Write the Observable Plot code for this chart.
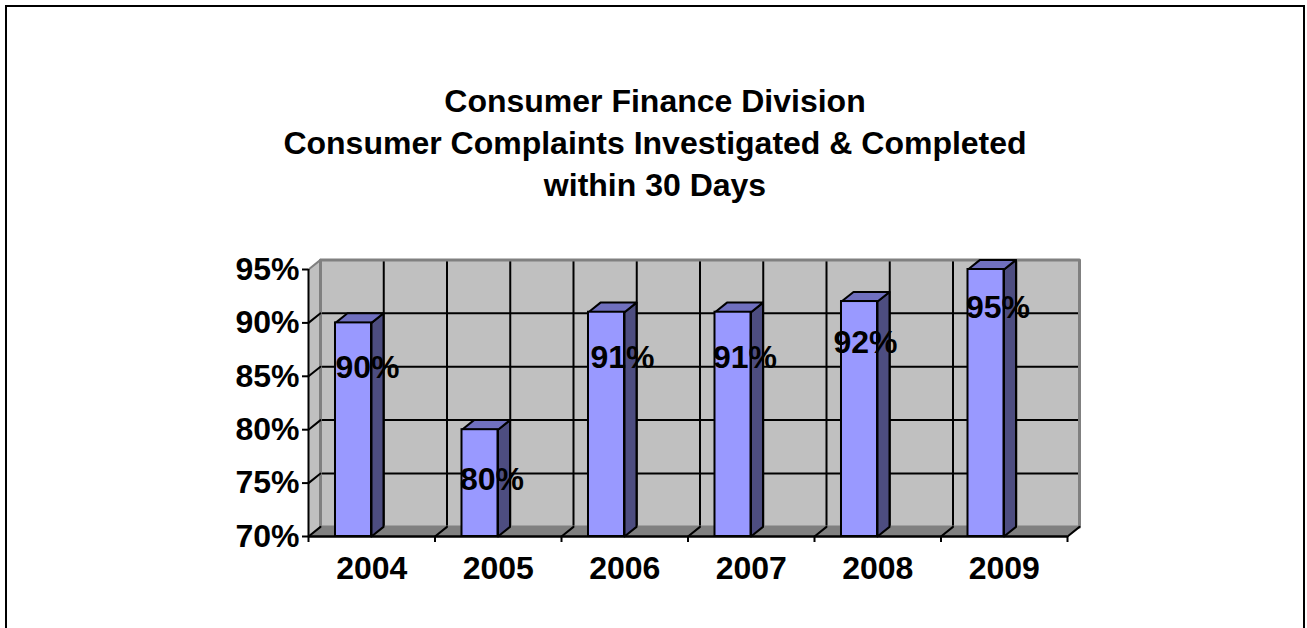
<!DOCTYPE html>
<html>
<head>
<meta charset="utf-8">
<script src="https://cdn.jsdelivr.net/npm/d3@7"></script>
<script src="https://cdn.jsdelivr.net/npm/@observablehq/plot@0.6"></script>
<style>
html,body{margin:0;padding:0;background:#fff;overflow:hidden}
#chart{position:relative;width:1307px;height:628px;overflow:hidden}
#chart svg{position:absolute;left:0;top:0}
#frame{position:absolute;left:5px;top:5px;width:1296px;height:640px;border:2px solid #000}
#title{position:absolute;left:0;width:1310px;top:80px;font:bold 32px/42px "Liberation Sans",Arial,sans-serif;color:#000;text-align:center}
</style>
</head>
<body>
<div id="chart"><div id="frame"></div>
<div id="title">Consumer Finance Division<br>Consumer Complaints Investigated &amp; Completed<br>within 30 Days</div>
</div>
<script>
const years = ["2004","2005","2006","2007","2008","2009"];
const rates = [90,80,91,91,92,95];
const yTicks = [70,75,80,85,90,95];

// layout only: the hand-placed label nudges of the original, in pixels
const labelDx = [32,30,34,30,24,30];
const labelDy = [45,50,46,46,41,38];

const depthX = 12/126.5, depthY = 9.6/10.68;
const barStart = 0.2134, barWidth = 0.2846;
const yMin = 70, yMax = 95, n = years.length;

const poly = (id,pts)=>pts.map(([x,y])=>({id,x,y}));
const halves = d3.range(0,2*n+1).map(k=>k/2);

const wall = poly("w",[[depthX,yMin+depthY],[n+depthX,yMin+depthY],[n+depthX,yMax+depthY],[depthX,yMax+depthY]]);
const side = poly("s",[[0,yMin],[depthX,yMin+depthY],[depthX,yMax+depthY],[0,yMax]]);
const floor = poly("f",[[0,yMin],[n,yMin],[n+depthX,yMin+depthY],[depthX,yMin+depthY]]);

const sides=[],tops=[];
rates.forEach((v,i)=>{
  const a=i+barStart,b=a+barWidth;
  sides.push(...poly("s"+i,[[b,yMin],[b+depthX,yMin+depthY],[b+depthX,v+depthY],[b,v]]));
  tops.push(...poly("t"+i,[[a,v],[b,v],[b+depthX,v+depthY],[a+depthX,v+depthY]]));
});
const bars = rates.map((v,i)=>({x1:i+barStart,x2:i+barStart+barWidth,v,label:v+"%"}));

const face=(d,fill,stroke,sw)=>Plot.line(d,{x:"x",y:"y",z:"id",curve:"linear-closed",fill,stroke,strokeWidth:sw});
const font="Liberation Sans, Arial, sans-serif";

const plot = Plot.plot({
  width:1307,height:628,
  marginLeft:308,marginRight:240,marginTop:269,marginBottom:92,
  style:{background:"transparent",fontFamily:font},
  x:{type:"linear",domain:[0,n],axis:null},
  y:{type:"linear",domain:[yMin,yMax],axis:null},
  marks:[
    face(side,"#c0c0c0","none",0),
    face(wall,"#c0c0c0","none",0),
    face(floor,"#808080","none",0),
    // back-wall grid
    Plot.ruleY(yTicks.slice(1,5),{y:d=>d+depthY,x1:depthX,x2:n+depthX,stroke:"#000",strokeWidth:2,strokeOpacity:1}),
    Plot.ruleX(halves.slice(1,-1),{x:d=>d+depthX,y1:yMin+depthY,y2:yMax+depthY,stroke:"#000",strokeWidth:2}),
    // wall edges
    Plot.line([[depthX,yMin+depthY],[depthX,yMax+depthY],[n+depthX,yMax+depthY],[n+depthX,yMin+depthY],[depthX,yMin+depthY]],{stroke:"#808080",strokeWidth:3}),
    Plot.line([[0,yMax],[depthX,yMax+depthY]],{stroke:"#808080",strokeWidth:2}),
    // wall diagonals
    ...yTicks.slice(1,5).map(t=>Plot.line([[0,t],[depthX,t+depthY]],{stroke:"#000",strokeWidth:2})),
    ...d3.range(0,n+1).map(k=>Plot.line([[k,yMin],[k+depthX,yMin+depthY]],{stroke:"#000",strokeWidth:2})),
    // bars
    face(sides,"#4d4d80","#000",2),
    face(tops,"#7070bf","#000",2),
    Plot.rect(bars,{x1:"x1",x2:"x2",y1:yMin,y2:"v",fill:"#9999ff",stroke:"#000",strokeWidth:2}),
    // axes lines
    Plot.ruleX([0],{y1:yMin,y2:yMax,stroke:"#000",strokeWidth:2}),
    Plot.ruleY([yMin],{x1:0,x2:n,stroke:"#000",strokeWidth:2.5}),
    Plot.axisY({ticks:yTicks,tickFormat:d=>d+"%",tickSize:6,tickPadding:3,stroke:"#000",strokeWidth:2,fontSize:32,fontWeight:"bold",fill:"#000",label:null}),
    Plot.axisX({ticks:d3.range(0,n+1),tickFormat:()=>"",tickSize:6,stroke:"#000",strokeWidth:2,label:null}),
    Plot.axisX({ticks:d3.range(0,n).map(i=>i+0.5),tickFormat:d=>years[Math.floor(d)],tickSize:0,tickPadding:20,fontSize:32,fontWeight:"bold",fill:"#000",label:null}),
    // data labels
    ...bars.map((b,i)=>Plot.text([b],{x:"x1",y:"v",text:"label",dx:labelDx[i],dy:labelDy[i],fontSize:32,fontWeight:"bold",fill:"#000"}))
  ]
});
document.getElementById("chart").prepend(plot);
</script>
</body>
</html>
